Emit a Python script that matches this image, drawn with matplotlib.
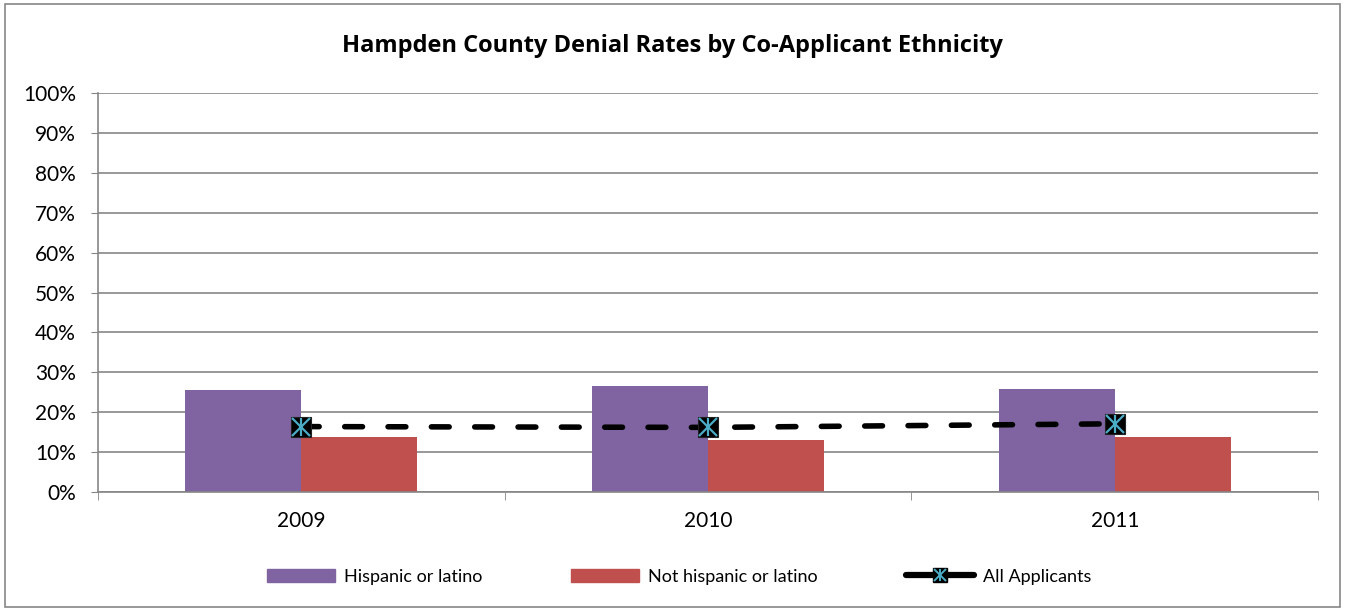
import numpy as np
import matplotlib.pyplot as plt
from matplotlib.lines import Line2D
from matplotlib.patches import Patch, Rectangle
from matplotlib.legend_handler import HandlerTuple

plt.rcParams['font.family'] = ['Lato', 'DejaVu Sans']

years = ['2009', '2010', '2011']
hispanic = [25.6, 26.5, 25.7]
not_hispanic = [13.9, 13.0, 13.7]
all_applicants = [16.4, 16.2, 17.1]

purple = '#8064a2'
red = '#c0504d'
cyan = '#4bacc6'
grid_c = '#868686'

fig = plt.figure(figsize=(13.45, 6.11), dpi=100)
fig.patches.append(Rectangle((0.004, 0.007), 0.992, 0.986, transform=fig.transFigure,
                             fill=False, edgecolor=grid_c, linewidth=1.2))
ax = fig.add_axes([0.0729, 0.1947, 0.9071, 0.6531])

x = np.arange(len(years))
w = 0.285
ax.bar(x - w / 2, hispanic, w, color=purple, zorder=2)
ax.bar(x + w / 2, not_hispanic, w, color=red, zorder=2)
ax.plot(x, all_applicants, color='black', linewidth=4, linestyle=(0, (3.2, 4.6)),
        dash_capstyle='round', zorder=3)
# square marker with cyan cross + vertical bar
ax.plot(x, all_applicants, linestyle='none', marker='s', markersize=14,
        markerfacecolor='black', markeredgecolor='#222222', markeredgewidth=0.8, zorder=4)
ax.plot(x, all_applicants, linestyle='none', marker='x', markersize=13,
        markeredgecolor=cyan, markeredgewidth=1.6, zorder=5)
ax.plot(x, all_applicants, linestyle='none', marker='|', markersize=13,
        markeredgecolor=cyan, markeredgewidth=1.6, zorder=5)

ax.set_xlim(-0.5, 2.5)
ax.set_ylim(0, 100)
ax.set_yticks(np.arange(0, 101, 10))
ax.set_yticklabels([f'{v}%' for v in range(0, 101, 10)], fontsize=15)
ax.set_xticks(x)
ax.set_xticklabels(years, fontsize=15)
ax.set_xticks([-0.5, 0.5, 1.5, 2.5], minor=True)
ax.tick_params(axis='x', which='major', length=0, pad=14)
ax.tick_params(axis='x', which='minor', length=6, color=grid_c, direction='out')
ax.tick_params(axis='y', length=5, color=grid_c, direction='out', pad=11)
ax.grid(axis='y', color=grid_c, linewidth=1.2, zorder=0)
ax.set_axisbelow(True)
for s in ['top', 'right']:
    ax.spines[s].set_visible(False)
for s in ['left', 'bottom']:
    ax.spines[s].set_color(grid_c)
    ax.spines[s].set_linewidth(1.2)

fig.text(0.5, 0.925, 'Hampden County Denial Rates by Co-Applicant Ethnicity',
         ha='center', va='center', fontsize=17, fontweight='bold',
         family=['Open Sans', 'DejaVu Sans'])

line_h = (Line2D([0], [0], color='black', linewidth=4.5, solid_capstyle='round'),
          Line2D([0], [0], linestyle='none', marker='s', markersize=10,
                 markerfacecolor='black', markeredgecolor='black'),
          Line2D([0], [0], linestyle='none', marker='x', markersize=9,
                 markeredgecolor=cyan, markeredgewidth=1.4),
          Line2D([0], [0], linestyle='none', marker='|', markersize=9,
                 markeredgecolor=cyan, markeredgewidth=1.4))
handles = [Patch(color=purple), Patch(color=red), line_h]
fig.legend(handles, ['Hispanic or latino', 'Not hispanic or latino', 'All Applicants'],
           loc='center', bbox_to_anchor=(0.505, 0.056), ncol=3, frameon=False,
           fontsize=13, handlelength=3.75, handleheight=0.75, handletextpad=0.5,
           columnspacing=4.9, handler_map={tuple: HandlerTuple(ndivide=1)})

fig.savefig('out.png', dpi=100)
